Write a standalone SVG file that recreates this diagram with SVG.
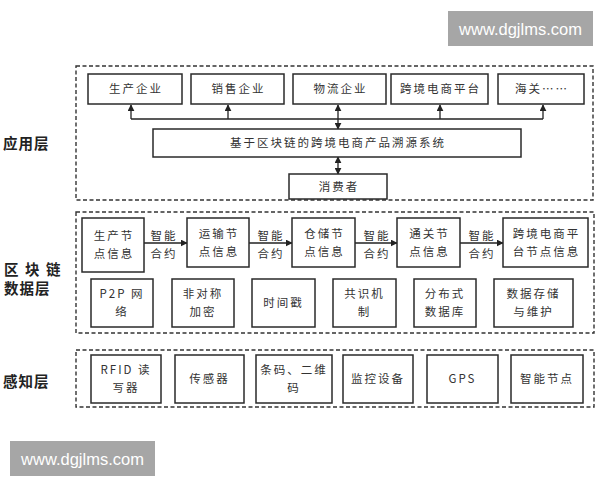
<svg xmlns="http://www.w3.org/2000/svg" width="600" height="480" viewBox="0 0 600 480">
<style>
.box{fill:#fff;stroke:#2a2a2a;stroke-width:1.5}
.dash{fill:none;stroke:#333;stroke-width:1.4;stroke-dasharray:4 2.5}
.t{font-family:"Noto Sans CJK SC","Liberation Sans",sans-serif;font-size:11.5px;fill:#333;text-anchor:middle;letter-spacing:2px}
.lbl{font-family:"Noto Sans CJK SC","Liberation Sans",sans-serif;font-size:14.5px;font-weight:bold;fill:#222}
.ln{fill:none;stroke:#222;stroke-width:1.3}
.wm{font-family:"Liberation Sans",Arial,sans-serif;font-size:16.5px;fill:#fff}
</style>
<defs>
<marker id="ah" viewBox="0 0 10 10" refX="9" refY="5" markerWidth="7" markerHeight="7" orient="auto-start-reverse" markerUnits="userSpaceOnUse">
<path d="M0,0 L10,5 L0,10 z" fill="#222"/>
</marker>
</defs>
<rect width="600" height="480" fill="#fff"/>

<g id="watermarks">
<rect x="448" y="11" width="145" height="35" fill="#a6a6a6"/>
<text class="wm" x="520.5" y="34.5" text-anchor="middle">www.dgjlms.com</text>
<rect x="10" y="441" width="145" height="35" fill="#a6a6a6"/>
<text class="wm" x="82.5" y="464.5" text-anchor="middle">www.dgjlms.com</text>
</g>

<g id="layer-labels">
<text class="lbl" x="3" y="149" letter-spacing="1">应用层</text>
<text class="lbl" x="4" y="275" letter-spacing="6.5">区块链</text>
<text class="lbl" x="4" y="294" letter-spacing="1">数据层</text>
<text class="lbl" x="3" y="387" letter-spacing="1">感知层</text>
</g>

<g id="layer-frames">
<rect class="dash" x="76" y="66" width="517" height="134"/>
<rect class="dash" x="76" y="212" width="518" height="121"/>
<rect class="dash" x="76" y="350" width="518" height="57"/>
</g>

<g id="connectors">
<line class="ln" x1="131" y1="119" x2="543" y2="119"/>
<line class="ln" x1="131" y1="119" x2="131" y2="105" marker-end="url(#ah)"/>
<line class="ln" x1="228" y1="119" x2="228" y2="105" marker-end="url(#ah)"/>
<line class="ln" x1="440" y1="119" x2="440" y2="105" marker-end="url(#ah)"/>
<line class="ln" x1="543" y1="119" x2="543" y2="105" marker-end="url(#ah)"/>
<line class="ln" x1="338" y1="105" x2="338" y2="129" marker-start="url(#ah)" marker-end="url(#ah)"/>
<line class="ln" x1="338" y1="157" x2="338" y2="174" marker-start="url(#ah)" marker-end="url(#ah)"/>
<line class="ln" x1="144" y1="243" x2="187" y2="243" marker-end="url(#ah)"/>
<line class="ln" x1="249" y1="243" x2="292" y2="243" marker-end="url(#ah)"/>
<line class="ln" x1="355" y1="243" x2="397" y2="243" marker-end="url(#ah)"/>
<line class="ln" x1="460" y1="243" x2="503" y2="243" marker-end="url(#ah)"/>
<text class="t" x="164" y="240">智能</text>
<text class="t" x="164" y="258">合约</text>
<text class="t" x="271" y="240">智能</text>
<text class="t" x="271" y="258">合约</text>
<text class="t" x="377" y="240">智能</text>
<text class="t" x="377" y="258">合约</text>
<text class="t" x="482" y="240">智能</text>
<text class="t" x="482" y="258">合约</text>
</g>

<g id="n-sc"><rect class="box" x="88" y="74" width="94" height="30"/><text class="t" x="136" y="93">生产企业</text></g>
<g id="n-xs"><rect class="box" x="191" y="74" width="93" height="30"/><text class="t" x="238.5" y="93">销售企业</text></g>
<g id="n-wl"><rect class="box" x="293" y="74" width="93" height="30"/><text class="t" x="340.5" y="93">物流企业</text></g>
<g id="n-kj"><rect class="box" x="391" y="74" width="97" height="30"/><text class="t" x="440.5" y="93">跨境电商平台</text></g>
<g id="n-hg"><rect class="box" x="498" y="74" width="86" height="30"/><text class="t" x="542" y="93">海关……</text></g>

<g id="n-sys"><rect class="box" x="153" y="129" width="368" height="28"/><text class="t" x="338" y="147">基于区块链的跨境电商产品溯源系统</text></g>
<g id="n-xfz"><rect class="box" x="289" y="174" width="98" height="25"/><text class="t" x="339" y="191">消费者</text></g>

<g id="n-d1"><rect class="box" x="82" y="218" width="62" height="54"/><text class="t" x="114" y="240">生产节</text><text class="t" x="114" y="258">点信息</text></g>
<g id="n-d2"><rect class="box" x="187" y="218" width="62" height="49"/><text class="t" x="219" y="238">运输节</text><text class="t" x="219" y="256">点信息</text></g>
<g id="n-d3"><rect class="box" x="292" y="218" width="63" height="49"/><text class="t" x="324.5" y="238">仓储节</text><text class="t" x="324.5" y="256">点信息</text></g>
<g id="n-d4"><rect class="box" x="397" y="218" width="63" height="49"/><text class="t" x="429.5" y="238">通关节</text><text class="t" x="429.5" y="256">点信息</text></g>
<g id="n-d5"><rect class="box" x="503" y="218" width="85" height="49"/><text class="t" x="546.5" y="238">跨境电商平</text><text class="t" x="546.5" y="256">台节点信息</text></g>

<g id="n-p2p"><rect class="box" x="91" y="279" width="62" height="48"/><text class="t" x="122" y="298">P2P 网</text><text class="t" x="122" y="316">络</text></g>
<g id="n-fdc"><rect class="box" x="172" y="279" width="62" height="48"/><text class="t" x="203" y="298">非对称</text><text class="t" x="203" y="316">加密</text></g>
<g id="n-sjc"><rect class="box" x="252" y="279" width="63" height="48"/><text class="t" x="283.5" y="307">时间戳</text></g>
<g id="n-gs"><rect class="box" x="333" y="279" width="63" height="48"/><text class="t" x="364.5" y="298">共识机</text><text class="t" x="364.5" y="316">制</text></g>
<g id="n-fbs"><rect class="box" x="414" y="279" width="62" height="48"/><text class="t" x="445" y="298">分布式</text><text class="t" x="445" y="316">数据库</text></g>
<g id="n-cc"><rect class="box" x="494" y="279" width="79" height="48"/><text class="t" x="533.5" y="298">数据存储</text><text class="t" x="533.5" y="316">与维护</text></g>

<g id="n-rfid"><rect class="box" x="91" y="355" width="70" height="48"/><text class="t" x="126" y="374">RFID 读</text><text class="t" x="126" y="392">写器</text></g>
<g id="n-cgq"><rect class="box" x="175" y="355" width="69" height="48"/><text class="t" x="209.5" y="383">传感器</text></g>
<g id="n-tm"><rect class="box" x="256" y="355" width="76" height="48"/><text class="t" x="294" y="374">条码、二维</text><text class="t" x="294" y="392">码</text></g>
<g id="n-jk"><rect class="box" x="343" y="355" width="70" height="48"/><text class="t" x="378" y="383">监控设备</text></g>
<g id="n-gps"><rect class="box" x="427" y="355" width="71" height="48"/><text class="t" x="462.5" y="383">GPS</text></g>
<g id="n-zn"><rect class="box" x="511" y="355" width="72" height="48"/><text class="t" x="547" y="383">智能节点</text></g>
</svg>
